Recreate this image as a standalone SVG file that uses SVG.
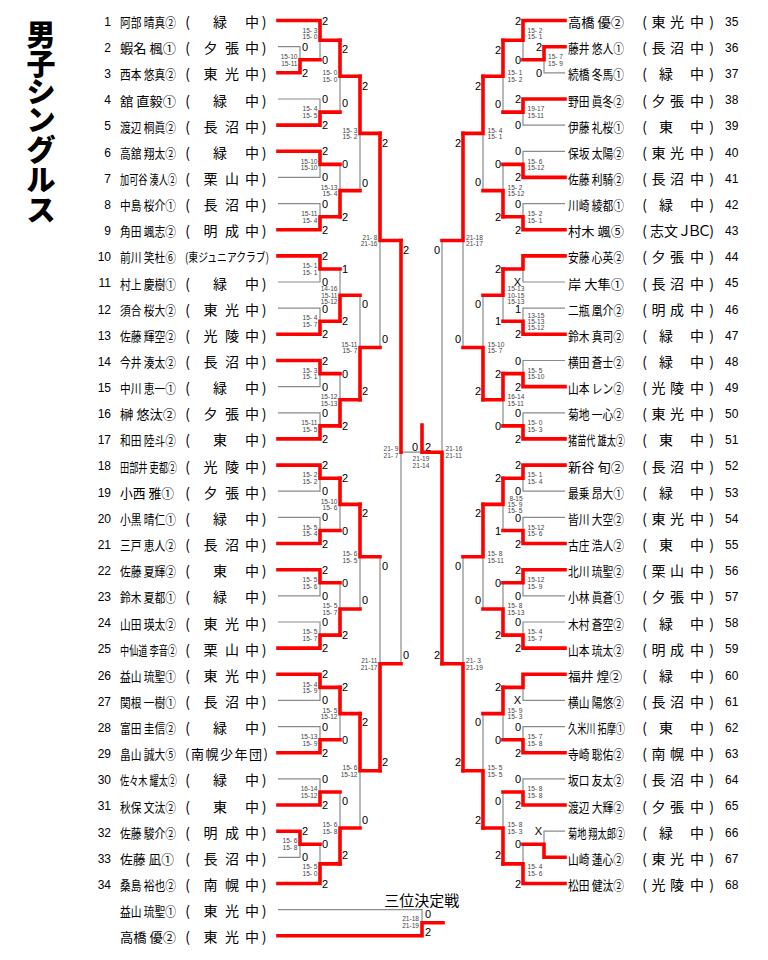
<svg xmlns="http://www.w3.org/2000/svg" width="768" height="960" viewBox="0 0 768 960">
<style>
.r{fill:none;stroke:#ff0000;stroke-width:3.6;stroke-linecap:square;stroke-linejoin:miter}
.g{fill:none;stroke:#8a8a8a;stroke-width:1.2}
text{font-family:"Noto Sans CJK JP","Noto Sans",sans-serif;fill:#000}
.no{font-family:"Liberation Sans",Arial,sans-serif;font-size:12px}
.nl{text-anchor:end}
.nm{font-size:13px}
.sch{font-size:14px;text-anchor:middle}
.sc{font-family:"Liberation Sans",Arial,sans-serif;font-size:6.6px;fill:#444}
.se{text-anchor:end}
.sm{text-anchor:middle}
.lb{font-family:"Liberation Sans",Arial,sans-serif;font-size:11px}
.le{text-anchor:end}
.lm{text-anchor:middle}
.title{font-size:29px;font-weight:900;text-anchor:middle}
.sub{font-size:15px;text-anchor:middle}
</style>
<rect width="768" height="960" fill="#fff"/>
<text class="title" x="41 41 41 41 41 41 41" y="46 74.5 103 131 161 191 221">男子シングルス</text>

<g id="players-left">
<g id="p1" transform="translate(0,20.5)"><text class="no nl" x="111" y="5.3">1</text><text class="nm" x="120" y="6.5" textLength="56" lengthAdjust="spacingAndGlyphs">阿部 晴真②</text><text class="sch" x="187.5 220 236 252 264" y="6.5">(緑 中)</text></g>
<g id="p2" transform="translate(0,46.7)"><text class="no nl" x="111" y="5.3">2</text><text class="nm" x="120" y="6.5" textLength="56" lengthAdjust="spacingAndGlyphs">蝦名 楓①</text><text class="sch" x="187.5 210.5 232 252 264" y="6.5">(夕張中)</text></g>
<g id="p3" transform="translate(0,72.8)"><text class="no nl" x="111" y="5.3">3</text><text class="nm" x="120" y="6.5" textLength="56" lengthAdjust="spacingAndGlyphs">西本 悠真②</text><text class="sch" x="187.5 210.5 232 252 264" y="6.5">(東光中)</text></g>
<g id="p4" transform="translate(0,99)"><text class="no nl" x="111" y="5.3">4</text><text class="nm" x="120" y="6.5" textLength="56" lengthAdjust="spacingAndGlyphs">舘 直毅①</text><text class="sch" x="187.5 220 236 252 264" y="6.5">(緑 中)</text></g>
<g id="p5" transform="translate(0,125.1)"><text class="no nl" x="111" y="5.3">5</text><text class="nm" x="120" y="6.5" textLength="56" lengthAdjust="spacingAndGlyphs">渡辺 桐眞②</text><text class="sch" x="187.5 210.5 232 252 264" y="6.5">(長沼中)</text></g>
<g id="p6" transform="translate(0,151.3)"><text class="no nl" x="111" y="5.3">6</text><text class="nm" x="120" y="6.5" textLength="56" lengthAdjust="spacingAndGlyphs">高舘 翔太②</text><text class="sch" x="187.5 220 236 252 264" y="6.5">(緑 中)</text></g>
<g id="p7" transform="translate(0,177.4)"><text class="no nl" x="111" y="5.3">7</text><text class="nm" x="120" y="6.5" textLength="57" lengthAdjust="spacingAndGlyphs">加可谷 湊人②</text><text class="sch" x="187.5 210.5 232 252 264" y="6.5">(栗山中)</text></g>
<g id="p8" transform="translate(0,203.6)"><text class="no nl" x="111" y="5.3">8</text><text class="nm" x="120" y="6.5" textLength="56" lengthAdjust="spacingAndGlyphs">中島 桜介①</text><text class="sch" x="187.5 210.5 232 252 264" y="6.5">(長沼中)</text></g>
<g id="p9" transform="translate(0,229.7)"><text class="no nl" x="111" y="5.3">9</text><text class="nm" x="120" y="6.5" textLength="56" lengthAdjust="spacingAndGlyphs">角田 颯志②</text><text class="sch" x="187.5 210.5 232 252 264" y="6.5">(明成中)</text></g>
<g id="p10" transform="translate(0,255.9)"><text class="no nl" x="111" y="5.3">10</text><text class="nm" x="120" y="6.5" textLength="56" lengthAdjust="spacingAndGlyphs">前川 笑杜⑥</text><text class="nm" x="185" y="6.5" style="font-size:12.5px" textLength="84" lengthAdjust="spacingAndGlyphs">(東ジュニアクラブ)</text></g>
<g id="p11" transform="translate(0,282)"><text class="no nl" x="111" y="5.3">11</text><text class="nm" x="120" y="6.5" textLength="56" lengthAdjust="spacingAndGlyphs">村上 慶樹①</text><text class="sch" x="187.5 220 236 252 264" y="6.5">(緑 中)</text></g>
<g id="p12" transform="translate(0,308.2)"><text class="no nl" x="111" y="5.3">12</text><text class="nm" x="120" y="6.5" textLength="56" lengthAdjust="spacingAndGlyphs">須合 桜大②</text><text class="sch" x="187.5 210.5 232 252 264" y="6.5">(東光中)</text></g>
<g id="p13" transform="translate(0,334.3)"><text class="no nl" x="111" y="5.3">13</text><text class="nm" x="120" y="6.5" textLength="56" lengthAdjust="spacingAndGlyphs">佐藤 輝空②</text><text class="sch" x="187.5 210.5 232 252 264" y="6.5">(光陵中)</text></g>
<g id="p14" transform="translate(0,360.5)"><text class="no nl" x="111" y="5.3">14</text><text class="nm" x="120" y="6.5" textLength="56" lengthAdjust="spacingAndGlyphs">今井 湊太②</text><text class="sch" x="187.5 210.5 232 252 264" y="6.5">(長沼中)</text></g>
<g id="p15" transform="translate(0,386.6)"><text class="no nl" x="111" y="5.3">15</text><text class="nm" x="120" y="6.5" textLength="56" lengthAdjust="spacingAndGlyphs">中川 恵一①</text><text class="sch" x="187.5 220 236 252 264" y="6.5">(緑 中)</text></g>
<g id="p16" transform="translate(0,412.8)"><text class="no nl" x="111" y="5.3">16</text><text class="nm" x="120" y="6.5" textLength="56" lengthAdjust="spacingAndGlyphs">榊 悠汰②</text><text class="sch" x="187.5 210.5 232 252 264" y="6.5">(夕張中)</text></g>
<g id="p17" transform="translate(0,438.9)"><text class="no nl" x="111" y="5.3">17</text><text class="nm" x="120" y="6.5" textLength="56" lengthAdjust="spacingAndGlyphs">和田 陸斗②</text><text class="sch" x="187.5 220 236 252 264" y="6.5">(東 中)</text></g>
<g id="p18" transform="translate(0,465.1)"><text class="no nl" x="111" y="5.3">18</text><text class="nm" x="120" y="6.5" textLength="57" lengthAdjust="spacingAndGlyphs">田部井 吏都②</text><text class="sch" x="187.5 210.5 232 252 264" y="6.5">(光陵中)</text></g>
<g id="p19" transform="translate(0,491.2)"><text class="no nl" x="111" y="5.3">19</text><text class="nm" x="120" y="6.5" textLength="54" lengthAdjust="spacingAndGlyphs">小西 雅①</text><text class="sch" x="187.5 210.5 232 252 264" y="6.5">(夕張中)</text></g>
<g id="p20" transform="translate(0,517.4)"><text class="no nl" x="111" y="5.3">20</text><text class="nm" x="120" y="6.5" textLength="56" lengthAdjust="spacingAndGlyphs">小黒 晴仁①</text><text class="sch" x="187.5 220 236 252 264" y="6.5">(緑 中)</text></g>
<g id="p21" transform="translate(0,543.5)"><text class="no nl" x="111" y="5.3">21</text><text class="nm" x="120" y="6.5" textLength="56" lengthAdjust="spacingAndGlyphs">三戸 恵人②</text><text class="sch" x="187.5 210.5 232 252 264" y="6.5">(長沼中)</text></g>
<g id="p22" transform="translate(0,569.7)"><text class="no nl" x="111" y="5.3">22</text><text class="nm" x="120" y="6.5" textLength="56" lengthAdjust="spacingAndGlyphs">佐藤 夏輝②</text><text class="sch" x="187.5 220 236 252 264" y="6.5">(東 中)</text></g>
<g id="p23" transform="translate(0,595.8)"><text class="no nl" x="111" y="5.3">23</text><text class="nm" x="120" y="6.5" textLength="56" lengthAdjust="spacingAndGlyphs">鈴木 夏都①</text><text class="sch" x="187.5 220 236 252 264" y="6.5">(緑 中)</text></g>
<g id="p24" transform="translate(0,622)"><text class="no nl" x="111" y="5.3">24</text><text class="nm" x="120" y="6.5" textLength="56" lengthAdjust="spacingAndGlyphs">山田 瑛太②</text><text class="sch" x="187.5 210.5 232 252 264" y="6.5">(東光中)</text></g>
<g id="p25" transform="translate(0,648.1)"><text class="no nl" x="111" y="5.3">25</text><text class="nm" x="120" y="6.5" textLength="57" lengthAdjust="spacingAndGlyphs">中仙道 李音②</text><text class="sch" x="187.5 210.5 232 252 264" y="6.5">(栗山中)</text></g>
<g id="p26" transform="translate(0,674.3)"><text class="no nl" x="111" y="5.3">26</text><text class="nm" x="120" y="6.5" textLength="56" lengthAdjust="spacingAndGlyphs">益山 琉聖①</text><text class="sch" x="187.5 210.5 232 252 264" y="6.5">(東光中)</text></g>
<g id="p27" transform="translate(0,700.4)"><text class="no nl" x="111" y="5.3">27</text><text class="nm" x="120" y="6.5" textLength="56" lengthAdjust="spacingAndGlyphs">関根 一樹①</text><text class="sch" x="187.5 210.5 232 252 264" y="6.5">(長沼中)</text></g>
<g id="p28" transform="translate(0,726.6)"><text class="no nl" x="111" y="5.3">28</text><text class="nm" x="120" y="6.5" textLength="56" lengthAdjust="spacingAndGlyphs">富田 圭信②</text><text class="sch" x="187.5 220 236 252 264" y="6.5">(緑 中)</text></g>
<g id="p29" transform="translate(0,752.7)"><text class="no nl" x="111" y="5.3">29</text><text class="nm" x="120" y="6.5" textLength="56" lengthAdjust="spacingAndGlyphs">畠山 誠大⑤</text><text class="nm" x="185" y="6.5" textLength="83" lengthAdjust="spacing">(南幌少年団)</text></g>
<g id="p30" transform="translate(0,778.9)"><text class="no nl" x="111" y="5.3">30</text><text class="nm" x="120" y="6.5" textLength="57" lengthAdjust="spacingAndGlyphs">佐々木 耀太②</text><text class="sch" x="187.5 220 236 252 264" y="6.5">(緑 中)</text></g>
<g id="p31" transform="translate(0,805)"><text class="no nl" x="111" y="5.3">31</text><text class="nm" x="120" y="6.5" textLength="56" lengthAdjust="spacingAndGlyphs">秋保 文汰②</text><text class="sch" x="187.5 220 236 252 264" y="6.5">(東 中)</text></g>
<g id="p32" transform="translate(0,831.2)"><text class="no nl" x="111" y="5.3">32</text><text class="nm" x="120" y="6.5" textLength="56" lengthAdjust="spacingAndGlyphs">佐藤 駿介②</text><text class="sch" x="187.5 210.5 232 252 264" y="6.5">(明成中)</text></g>
<g id="p33" transform="translate(0,857.3)"><text class="no nl" x="111" y="5.3">33</text><text class="nm" x="120" y="6.5" textLength="54" lengthAdjust="spacingAndGlyphs">佐藤 凪①</text><text class="sch" x="187.5 210.5 232 252 264" y="6.5">(長沼中)</text></g>
<g id="p34" transform="translate(0,883.5)"><text class="no nl" x="111" y="5.3">34</text><text class="nm" x="120" y="6.5" textLength="56" lengthAdjust="spacingAndGlyphs">桑島 裕也②</text><text class="sch" x="187.5 210.5 232 252 264" y="6.5">(南幌中)</text></g>
</g>

<g id="players-right">
<g id="p35" transform="translate(0,20.5)"><text class="nm" x="568" y="6.5" textLength="56" lengthAdjust="spacingAndGlyphs">高橋 優②</text><text class="sch" x="644.5 658.5 677 697 711.5" y="6.5">(東光中)</text><text class="no" x="725" y="5.3">35</text></g>
<g id="p36" transform="translate(0,46.7)"><text class="nm" x="568" y="6.5" textLength="56" lengthAdjust="spacingAndGlyphs">藤井 悠人①</text><text class="sch" x="644.5 658.5 677 697 711.5" y="6.5">(長沼中)</text><text class="no" x="725" y="5.3">36</text></g>
<g id="p37" transform="translate(0,72.8)"><text class="nm" x="568" y="6.5" textLength="56" lengthAdjust="spacingAndGlyphs">続橋 冬馬①</text><text class="sch" x="644.5 666 681 697 711.5" y="6.5">(緑 中)</text><text class="no" x="725" y="5.3">37</text></g>
<g id="p38" transform="translate(0,99)"><text class="nm" x="568" y="6.5" textLength="56" lengthAdjust="spacingAndGlyphs">野田 眞冬②</text><text class="sch" x="644.5 658.5 677 697 711.5" y="6.5">(夕張中)</text><text class="no" x="725" y="5.3">38</text></g>
<g id="p39" transform="translate(0,125.1)"><text class="nm" x="568" y="6.5" textLength="56" lengthAdjust="spacingAndGlyphs">伊藤 礼桜①</text><text class="sch" x="644.5 666 681 697 711.5" y="6.5">(東 中)</text><text class="no" x="725" y="5.3">39</text></g>
<g id="p40" transform="translate(0,151.3)"><text class="nm" x="568" y="6.5" textLength="56" lengthAdjust="spacingAndGlyphs">保坂 太陽②</text><text class="sch" x="644.5 658.5 677 697 711.5" y="6.5">(東光中)</text><text class="no" x="725" y="5.3">40</text></g>
<g id="p41" transform="translate(0,177.4)"><text class="nm" x="568" y="6.5" textLength="56" lengthAdjust="spacingAndGlyphs">佐藤 利騎②</text><text class="sch" x="644.5 658.5 677 697 711.5" y="6.5">(長沼中)</text><text class="no" x="725" y="5.3">41</text></g>
<g id="p42" transform="translate(0,203.6)"><text class="nm" x="568" y="6.5" textLength="56" lengthAdjust="spacingAndGlyphs">川崎 綾都①</text><text class="sch" x="644.5 666 681 697 711.5" y="6.5">(緑 中)</text><text class="no" x="725" y="5.3">42</text></g>
<g id="p43" transform="translate(0,229.7)"><text class="nm" x="568" y="6.5" textLength="56" lengthAdjust="spacingAndGlyphs">村木 颯⑤</text><text class="sch" x="644.5 657 671 684.5 694.5 704.5 711.5" y="6.5">(志文ＪＢＣ)</text><text class="no" x="725" y="5.3">43</text></g>
<g id="p44" transform="translate(0,255.9)"><text class="nm" x="568" y="6.5" textLength="56" lengthAdjust="spacingAndGlyphs">安藤 心英②</text><text class="sch" x="644.5 658.5 677 697 711.5" y="6.5">(夕張中)</text><text class="no" x="725" y="5.3">44</text></g>
<g id="p45" transform="translate(0,282)"><text class="nm" x="568" y="6.5" textLength="56" lengthAdjust="spacingAndGlyphs">岸 大隼①</text><text class="sch" x="644.5 658.5 677 697 711.5" y="6.5">(長沼中)</text><text class="no" x="725" y="5.3">45</text></g>
<g id="p46" transform="translate(0,308.2)"><text class="nm" x="568" y="6.5" textLength="56" lengthAdjust="spacingAndGlyphs">二瓶 凰介②</text><text class="sch" x="644.5 658.5 677 697 711.5" y="6.5">(明成中)</text><text class="no" x="725" y="5.3">46</text></g>
<g id="p47" transform="translate(0,334.3)"><text class="nm" x="568" y="6.5" textLength="56" lengthAdjust="spacingAndGlyphs">鈴木 真司②</text><text class="sch" x="644.5 666 681 697 711.5" y="6.5">(緑 中)</text><text class="no" x="725" y="5.3">47</text></g>
<g id="p48" transform="translate(0,360.5)"><text class="nm" x="568" y="6.5" textLength="56" lengthAdjust="spacingAndGlyphs">横田 蒼士②</text><text class="sch" x="644.5 666 681 697 711.5" y="6.5">(緑 中)</text><text class="no" x="725" y="5.3">48</text></g>
<g id="p49" transform="translate(0,386.6)"><text class="nm" x="568" y="6.5" textLength="56" lengthAdjust="spacingAndGlyphs">山本 レン②</text><text class="sch" x="644.5 658.5 677 697 711.5" y="6.5">(光陵中)</text><text class="no" x="725" y="5.3">49</text></g>
<g id="p50" transform="translate(0,412.8)"><text class="nm" x="568" y="6.5" textLength="56" lengthAdjust="spacingAndGlyphs">菊地 一心②</text><text class="sch" x="644.5 658.5 677 697 711.5" y="6.5">(東光中)</text><text class="no" x="725" y="5.3">50</text></g>
<g id="p51" transform="translate(0,438.9)"><text class="nm" x="568" y="6.5" textLength="57" lengthAdjust="spacingAndGlyphs">猪苗代 雄太②</text><text class="sch" x="644.5 666 681 697 711.5" y="6.5">(東 中)</text><text class="no" x="725" y="5.3">51</text></g>
<g id="p52" transform="translate(0,465.1)"><text class="nm" x="568" y="6.5" textLength="56" lengthAdjust="spacingAndGlyphs">新谷 旬②</text><text class="sch" x="644.5 658.5 677 697 711.5" y="6.5">(長沼中)</text><text class="no" x="725" y="5.3">52</text></g>
<g id="p53" transform="translate(0,491.2)"><text class="nm" x="568" y="6.5" textLength="56" lengthAdjust="spacingAndGlyphs">最乗 昂大①</text><text class="sch" x="644.5 666 681 697 711.5" y="6.5">(緑 中)</text><text class="no" x="725" y="5.3">53</text></g>
<g id="p54" transform="translate(0,517.4)"><text class="nm" x="568" y="6.5" textLength="56" lengthAdjust="spacingAndGlyphs">皆川 大空②</text><text class="sch" x="644.5 658.5 677 697 711.5" y="6.5">(東光中)</text><text class="no" x="725" y="5.3">54</text></g>
<g id="p55" transform="translate(0,543.5)"><text class="nm" x="568" y="6.5" textLength="56" lengthAdjust="spacingAndGlyphs">古庄 浩人②</text><text class="sch" x="644.5 666 681 697 711.5" y="6.5">(東 中)</text><text class="no" x="725" y="5.3">55</text></g>
<g id="p56" transform="translate(0,569.7)"><text class="nm" x="568" y="6.5" textLength="56" lengthAdjust="spacingAndGlyphs">北川 琉聖②</text><text class="sch" x="644.5 658.5 677 697 711.5" y="6.5">(栗山中)</text><text class="no" x="725" y="5.3">56</text></g>
<g id="p57" transform="translate(0,595.8)"><text class="nm" x="568" y="6.5" textLength="56" lengthAdjust="spacingAndGlyphs">小林 眞蒼①</text><text class="sch" x="644.5 658.5 677 697 711.5" y="6.5">(夕張中)</text><text class="no" x="725" y="5.3">57</text></g>
<g id="p58" transform="translate(0,622)"><text class="nm" x="568" y="6.5" textLength="56" lengthAdjust="spacingAndGlyphs">木村 蒼空②</text><text class="sch" x="644.5 666 681 697 711.5" y="6.5">(緑 中)</text><text class="no" x="725" y="5.3">58</text></g>
<g id="p59" transform="translate(0,648.1)"><text class="nm" x="568" y="6.5" textLength="56" lengthAdjust="spacingAndGlyphs">山本 琉太②</text><text class="sch" x="644.5 658.5 677 697 711.5" y="6.5">(明成中)</text><text class="no" x="725" y="5.3">59</text></g>
<g id="p60" transform="translate(0,674.3)"><text class="nm" x="568" y="6.5" textLength="54" lengthAdjust="spacingAndGlyphs">福井 煌②</text><text class="sch" x="644.5 666 681 697 711.5" y="6.5">(緑 中)</text><text class="no" x="725" y="5.3">60</text></g>
<g id="p61" transform="translate(0,700.4)"><text class="nm" x="568" y="6.5" textLength="56" lengthAdjust="spacingAndGlyphs">横山 陽悠②</text><text class="sch" x="644.5 658.5 677 697 711.5" y="6.5">(長沼中)</text><text class="no" x="725" y="5.3">61</text></g>
<g id="p62" transform="translate(0,726.6)"><text class="nm" x="568" y="6.5" textLength="57" lengthAdjust="spacingAndGlyphs">久米川 拓摩①</text><text class="sch" x="644.5 666 681 697 711.5" y="6.5">(東 中)</text><text class="no" x="725" y="5.3">62</text></g>
<g id="p63" transform="translate(0,752.7)"><text class="nm" x="568" y="6.5" textLength="56" lengthAdjust="spacingAndGlyphs">寺崎 聡佑②</text><text class="sch" x="644.5 658.5 677 697 711.5" y="6.5">(南幌中)</text><text class="no" x="725" y="5.3">63</text></g>
<g id="p64" transform="translate(0,778.9)"><text class="nm" x="568" y="6.5" textLength="56" lengthAdjust="spacingAndGlyphs">坂口 友太②</text><text class="sch" x="644.5 658.5 677 697 711.5" y="6.5">(長沼中)</text><text class="no" x="725" y="5.3">64</text></g>
<g id="p65" transform="translate(0,805)"><text class="nm" x="568" y="6.5" textLength="56" lengthAdjust="spacingAndGlyphs">渡辺 大輝②</text><text class="sch" x="644.5 658.5 677 697 711.5" y="6.5">(夕張中)</text><text class="no" x="725" y="5.3">65</text></g>
<g id="p66" transform="translate(0,831.2)"><text class="nm" x="568" y="6.5" textLength="57" lengthAdjust="spacingAndGlyphs">菊地 翔太郎②</text><text class="sch" x="644.5 666 681 697 711.5" y="6.5">(緑 中)</text><text class="no" x="725" y="5.3">66</text></g>
<g id="p67" transform="translate(0,857.3)"><text class="nm" x="568" y="6.5" textLength="56" lengthAdjust="spacingAndGlyphs">山崎 蓮心②</text><text class="sch" x="644.5 658.5 677 697 711.5" y="6.5">(東光中)</text><text class="no" x="725" y="5.3">67</text></g>
<g id="p68" transform="translate(0,883.5)"><text class="nm" x="568" y="6.5" textLength="56" lengthAdjust="spacingAndGlyphs">松田 健汰②</text><text class="sch" x="644.5 658.5 677 697 711.5" y="6.5">(光陵中)</text><text class="no" x="725" y="5.3">68</text></g>
</g>

<g id="third-place">
<text class="sub" x="421.7" y="905.5">三位決定戦</text>
<g id="t1" transform="translate(0,909.6)"><text class="nm" x="120" y="6.5" textLength="56" lengthAdjust="spacingAndGlyphs">益山 琉聖①</text><text class="sch" x="187.5 210.5 232 252 264" y="6.5">(東光中)</text></g>
<g id="t2" transform="translate(0,935.8)"><text class="nm" x="120" y="6.5" textLength="56" lengthAdjust="spacingAndGlyphs">高橋 優②</text><text class="sch" x="187.5 210.5 232 252 264" y="6.5">(東光中)</text></g>
</g>

<g id="connectors">
<path class="g" d="M278,46.7H300V59.8M320,40.2V59.8M278,99H320V112.1M340,76.2V112.1M278,177.4H320V164.4M278,203.6H320V216.7M340,164.4V190.6M360,133.4V190.6M278,282H320V269M278,308.2H320V321.3M340,269V295.2M278,386.6H320V373.6M278,412.8H320V425.9M340,373.6V399.8M360,295.2V347.5M380,240.5V347.5M278,491.2H320V478.2M278,517.4H320V530.5M340,504.4V530.5M278,595.8H320V582.8M278,622H320V635.1M340,582.8V609M360,556.7V609M278,700.4H320V687.4M278,726.6H320V739.7M340,713.6V739.7M278,778.9H320V792M278,857.3H300V844.3M320,844.3V863.9M340,792V828M360,770.8V828M380,556.7V663.8M401,452.2V663.8M401,452.2H422M278,909.6H422V922.7"/>
<path class="g" d="M565,72.8H544V59.8M523,40.2V59.8M565,125.1H523V112.1M503,76.2V112.1M565,151.3H523V164.4M565,203.6H523V216.7M503,164.4V190.6M483,133.4V190.6M565,282H523V269M565,308.2H523V321.3M503,295.2V321.3M565,360.5H523V373.6M565,412.8H523V425.9M503,399.8V425.9M483,295.2V347.5M463,240.5V347.5M565,491.2H523V478.2M565,517.4H523V530.5M503,504.4V530.5M565,595.8H523V582.8M565,622H523V635.1M503,582.8V609M483,556.7V609M565,700.4H523V687.4M565,726.6H523V739.7M503,713.6V739.7M565,778.9H523V792M565,831.2H544V844.3M523,844.3V863.9M503,792V828M483,713.6V770.8M463,556.7V663.8M442,240.5V452.2"/>
<path class="r" d="M278,72.8H300V59.8H320"/>
<path class="r" d="M278,20.5H320V40.2H340"/>
<path class="r" d="M278,125.1H320V112.1H340"/>
<path class="r" d="M340,40.2V76.2H360"/>
<path class="r" d="M278,151.3H320V164.4H340"/>
<path class="r" d="M278,229.7H320V216.7H340"/>
<path class="r" d="M340,216.7V190.6H360"/>
<path class="r" d="M360,76.2V133.4H380"/>
<path class="r" d="M278,255.9H320V269H340"/>
<path class="r" d="M278,334.3H320V321.3H340"/>
<path class="r" d="M340,321.3V295.2H360"/>
<path class="r" d="M278,360.5H320V373.6H340"/>
<path class="r" d="M278,438.9H320V425.9H340"/>
<path class="r" d="M340,425.9V399.8H360"/>
<path class="r" d="M360,399.8V347.5H380"/>
<path class="r" d="M380,133.4V240.5H401"/>
<path class="r" d="M278,465.1H320V478.2H340"/>
<path class="r" d="M278,543.5H320V530.5H340"/>
<path class="r" d="M340,478.2V504.4H360"/>
<path class="r" d="M278,569.7H320V582.8H340"/>
<path class="r" d="M278,648.1H320V635.1H340"/>
<path class="r" d="M340,635.1V609H360"/>
<path class="r" d="M360,504.4V556.7H380"/>
<path class="r" d="M278,674.3H320V687.4H340"/>
<path class="r" d="M278,752.7H320V739.7H340"/>
<path class="r" d="M340,687.4V713.6H360"/>
<path class="r" d="M278,805H320V792H340"/>
<path class="r" d="M278,831.2H300V844.3H320"/>
<path class="r" d="M278,883.5H320V863.9H340"/>
<path class="r" d="M340,863.9V828H360"/>
<path class="r" d="M360,713.6V770.8H380"/>
<path class="r" d="M380,770.8V663.8H401"/>
<path class="r" d="M401,240.5V452.2"/>
<path class="r" d="M278,935.8H422V922.7H443"/>
<path class="r" d="M565,46.7H544V59.8H523"/>
<path class="r" d="M565,20.5H523V40.2H503"/>
<path class="r" d="M565,99H523V112.1H503"/>
<path class="r" d="M503,40.2V76.2H483"/>
<path class="r" d="M565,177.4H523V164.4H503"/>
<path class="r" d="M565,229.7H523V216.7H503"/>
<path class="r" d="M503,216.7V190.6H483"/>
<path class="r" d="M483,76.2V133.4H463"/>
<path class="r" d="M565,255.9H523V269H503"/>
<path class="r" d="M565,334.3H523V321.3H503"/>
<path class="r" d="M503,269V295.2H483"/>
<path class="r" d="M565,386.6H523V373.6H503"/>
<path class="r" d="M565,438.9H523V425.9H503"/>
<path class="r" d="M503,373.6V399.8H483"/>
<path class="r" d="M483,399.8V347.5H463"/>
<path class="r" d="M463,133.4V240.5H442"/>
<path class="r" d="M565,465.1H523V478.2H503"/>
<path class="r" d="M565,543.5H523V530.5H503"/>
<path class="r" d="M503,478.2V504.4H483"/>
<path class="r" d="M565,569.7H523V582.8H503"/>
<path class="r" d="M565,648.1H523V635.1H503"/>
<path class="r" d="M503,635.1V609H483"/>
<path class="r" d="M483,504.4V556.7H463"/>
<path class="r" d="M565,674.3H523V687.4H503"/>
<path class="r" d="M565,752.7H523V739.7H503"/>
<path class="r" d="M503,687.4V713.6H483"/>
<path class="r" d="M565,805H523V792H503"/>
<path class="r" d="M565,857.3H544V844.3H523"/>
<path class="r" d="M565,883.5H523V863.9H503"/>
<path class="r" d="M503,863.9V828H483"/>
<path class="r" d="M483,828V770.8H463"/>
<path class="r" d="M463,770.8V663.8H442"/>
<path class="r" d="M442,663.8V452.2H422V425"/>
</g>

<g id="scores">
<text class="sc se" x="297.5" y="58.95">15-10<tspan x="297.5" dy="6.7">15-11</tspan></text>
<text class="sc se" x="297.5" y="843.45">15- 6<tspan x="297.5" dy="6.7">15- 8</tspan></text>
<text class="sc se" x="317.5" y="32.5">15- 3<tspan x="317.5" dy="6.7">15- 0</tspan></text>
<text class="sc se" x="317.5" y="111.25">15- 4<tspan x="317.5" dy="6.7">15- 5</tspan></text>
<text class="sc se" x="317.5" y="163.55">15-10<tspan x="317.5" dy="6.7">15-10</tspan></text>
<text class="sc se" x="317.5" y="215.85">15-11<tspan x="317.5" dy="6.7">15- 4</tspan></text>
<text class="sc se" x="317.5" y="268.15">15- 1<tspan x="317.5" dy="6.7">15- 1</tspan></text>
<text class="sc se" x="317.5" y="320.45">15- 4<tspan x="317.5" dy="6.7">15- 7</tspan></text>
<text class="sc se" x="317.5" y="372.75">15- 3<tspan x="317.5" dy="6.7">15- 1</tspan></text>
<text class="sc se" x="317.5" y="425.05">15-11<tspan x="317.5" dy="6.7">15- 5</tspan></text>
<text class="sc se" x="317.5" y="477.35">15- 2<tspan x="317.5" dy="6.7">15- 2</tspan></text>
<text class="sc se" x="317.5" y="529.65">15- 5<tspan x="317.5" dy="6.7">15- 4</tspan></text>
<text class="sc se" x="317.5" y="581.95">15- 5<tspan x="317.5" dy="6.7">15- 6</tspan></text>
<text class="sc se" x="317.5" y="634.25">15- 5<tspan x="317.5" dy="6.7">15- 7</tspan></text>
<text class="sc se" x="317.5" y="686.55">15- 4<tspan x="317.5" dy="6.7">15- 9</tspan></text>
<text class="sc se" x="317.5" y="738.85">15-13<tspan x="317.5" dy="6.7">15- 9</tspan></text>
<text class="sc se" x="317.5" y="791.15">16-14<tspan x="317.5" dy="6.7">15-12</tspan></text>
<text class="sc se" x="317.5" y="869.2">15- 5<tspan x="317.5" dy="6.7">15- 0</tspan></text>
<text class="sc se" x="337.5" y="75.35">15- 0<tspan x="337.5" dy="6.7">15- 0</tspan></text>
<text class="sc se" x="337.5" y="189.75">15-13<tspan x="337.5" dy="6.7">15- 4</tspan></text>
<text class="sc se" x="337.5" y="291.4">14-16<tspan x="337.5" dy="6.2">15-11</tspan><tspan x="337.5" dy="6.2">15-12</tspan></text>
<text class="sc se" x="337.5" y="398.95">15-12<tspan x="337.5" dy="6.7">15-13</tspan></text>
<text class="sc se" x="337.5" y="503.55">15-10<tspan x="337.5" dy="6.7">15- 6</tspan></text>
<text class="sc se" x="337.5" y="608.15">15- 5<tspan x="337.5" dy="6.7">15- 7</tspan></text>
<text class="sc se" x="337.5" y="712.75">15- 5<tspan x="337.5" dy="6.7">15-12</tspan></text>
<text class="sc se" x="337.5" y="827.15">15- 6<tspan x="337.5" dy="6.7">15- 8</tspan></text>
<text class="sc se" x="357.5" y="132.55">15- 3<tspan x="357.5" dy="6.7">15- 2</tspan></text>
<text class="sc se" x="357.5" y="346.65">15-11<tspan x="357.5" dy="6.7">15- 7</tspan></text>
<text class="sc se" x="357.5" y="555.85">15- 6<tspan x="357.5" dy="6.7">15- 5</tspan></text>
<text class="sc se" x="357.5" y="769.95">15- 6<tspan x="357.5" dy="6.7">15-12</tspan></text>
<text class="sc se" x="377.5" y="239.65">21- 8<tspan x="377.5" dy="6.7">21-16</tspan></text>
<text class="sc se" x="377.5" y="662.95">21-11<tspan x="377.5" dy="6.7">21-17</tspan></text>
<text class="sc se" x="398.5" y="451.35">21- 9<tspan x="398.5" dy="6.7">21- 7</tspan></text>
<text class="sc sm" x="421" y="460.8">21-19<tspan x="421" dy="6.7">21-14</tspan></text>
<text class="sc se" x="419" y="920.8">21-18<tspan x="419" dy="6.7">21-19</tspan></text>
<text class="sc" x="548" y="58.95">15- 7<tspan x="548" dy="6.7">15- 9</tspan></text>
<text class="sc" x="527.5" y="32.5">15- 2<tspan x="527.5" dy="6.7">15- 1</tspan></text>
<text class="sc" x="527.5" y="111.25">19-17<tspan x="527.5" dy="6.7">15-11</tspan></text>
<text class="sc" x="527.5" y="163.55">15- 6<tspan x="527.5" dy="6.7">15-12</tspan></text>
<text class="sc" x="527.5" y="215.85">15- 2<tspan x="527.5" dy="6.7">15- 1</tspan></text>
<text class="sc" x="527.5" y="317.5">13-15<tspan x="527.5" dy="6.2">15-13</tspan><tspan x="527.5" dy="6.2">15-12</tspan></text>
<text class="sc" x="527.5" y="372.75">15- 5<tspan x="527.5" dy="6.7">15-10</tspan></text>
<text class="sc" x="527.5" y="425.05">15- 0<tspan x="527.5" dy="6.7">15- 3</tspan></text>
<text class="sc" x="527.5" y="477.35">15- 1<tspan x="527.5" dy="6.7">15- 4</tspan></text>
<text class="sc" x="527.5" y="529.65">15-12<tspan x="527.5" dy="6.7">15- 6</tspan></text>
<text class="sc" x="527.5" y="581.95">15-12<tspan x="527.5" dy="6.7">15- 9</tspan></text>
<text class="sc" x="527.5" y="634.25">15- 4<tspan x="527.5" dy="6.7">15- 7</tspan></text>
<text class="sc" x="527.5" y="738.85">15- 7<tspan x="527.5" dy="6.7">15- 8</tspan></text>
<text class="sc" x="527.5" y="791.15">15- 8<tspan x="527.5" dy="6.7">15- 8</tspan></text>
<text class="sc" x="527.5" y="869.2">15- 4<tspan x="527.5" dy="6.7">15- 6</tspan></text>
<text class="sc" x="507.5" y="75.35">15- 1<tspan x="507.5" dy="6.7">15- 2</tspan></text>
<text class="sc" x="507.5" y="189.75">15- 2<tspan x="507.5" dy="6.7">15-12</tspan></text>
<text class="sc" x="507.5" y="291.4">15-13<tspan x="507.5" dy="6.2">10-15</tspan><tspan x="507.5" dy="6.2">15-13</tspan></text>
<text class="sc" x="507.5" y="398.95">16-14<tspan x="507.5" dy="6.7">15-11</tspan></text>
<text class="sc" x="509.5" y="500.6">8-15<tspan x="507.5" dy="6.2">15- 9</tspan><tspan x="507.5" dy="6.2">15- 5</tspan></text>
<text class="sc" x="507.5" y="608.15">15- 8<tspan x="507.5" dy="6.7">15-13</tspan></text>
<text class="sc" x="507.5" y="712.75">15- 9<tspan x="507.5" dy="6.7">15- 3</tspan></text>
<text class="sc" x="507.5" y="827.15">15- 8<tspan x="507.5" dy="6.7">15- 3</tspan></text>
<text class="sc" x="487.5" y="132.55">15- 4<tspan x="487.5" dy="6.7">15- 1</tspan></text>
<text class="sc" x="487.5" y="346.65">15-10<tspan x="487.5" dy="6.7">15- 7</tspan></text>
<text class="sc" x="487.5" y="555.85">15- 8<tspan x="487.5" dy="6.7">15-11</tspan></text>
<text class="sc" x="487.5" y="769.95">15- 5<tspan x="487.5" dy="6.7">15- 5</tspan></text>
<text class="sc" x="466" y="239.65">21-18<tspan x="466" dy="6.7">21-17</tspan></text>
<text class="sc" x="466" y="662.95">21- 3<tspan x="466" dy="6.7">21-19</tspan></text>
<text class="sc" x="445.5" y="451.35">21-16<tspan x="445.5" dy="6.7">21-11</tspan></text>
</g>

<g id="results">
<text class="lb" x="302" y="50.7">0</text><text class="lb" x="302" y="76.8">2</text>
<text class="lb" x="322" y="24.5">2</text><text class="lb" x="322" y="63.8">0</text>
<text class="lb" x="322" y="103">0</text><text class="lb" x="322" y="129.1">2</text>
<text class="lb" x="342" y="53.2">2</text><text class="lb" x="342" y="107.1">0</text>
<text class="lb" x="322" y="155.3">2</text><text class="lb" x="322" y="181.4">0</text>
<text class="lb" x="322" y="207.6">0</text><text class="lb" x="322" y="233.7">2</text>
<text class="lb" x="342" y="168.4">0</text><text class="lb" x="342" y="220.7">2</text>
<text class="lb" x="362" y="89.5">2</text><text class="lb" x="362" y="186.5">0</text>
<text class="lb" x="382" y="146.5">2</text><text class="lb" x="382" y="343">0</text>
<text class="lb" x="322" y="259.9">2</text><text class="lb" x="322" y="286">0</text>
<text class="lb" x="322" y="312.6">0</text><text class="lb" x="322" y="338.3">2</text>
<text class="lb" x="342" y="273">1</text><text class="lb" x="342" y="325.3">2</text>
<text class="lb" x="322" y="364.5">2</text><text class="lb" x="322" y="390.6">0</text>
<text class="lb" x="322" y="416.8">0</text><text class="lb" x="322" y="442.9">2</text>
<text class="lb" x="342" y="377.6">0</text><text class="lb" x="342" y="429.9">2</text>
<text class="lb" x="362" y="308">0</text><text class="lb" x="362" y="395">2</text>
<text class="lb" x="403" y="254">2</text><text class="lb" x="403" y="659">0</text>
<text class="lb" x="322" y="469.1">2</text><text class="lb" x="322" y="495.2">0</text>
<text class="lb" x="322" y="521.4">0</text><text class="lb" x="322" y="547.5">2</text>
<text class="lb" x="342" y="482.2">2</text><text class="lb" x="342" y="534.5">0</text>
<text class="lb" x="322" y="573.7">2</text><text class="lb" x="322" y="599.8">0</text>
<text class="lb" x="322" y="626">0</text><text class="lb" x="322" y="652.1">2</text>
<text class="lb" x="342" y="586.8">0</text><text class="lb" x="342" y="639.1">2</text>
<text class="lb" x="362" y="517.4">2</text><text class="lb" x="362" y="604">0</text>
<text class="lb" x="382" y="569.5">0</text><text class="lb" x="382" y="766">2</text>
<text class="lb" x="322" y="678.3">2</text><text class="lb" x="322" y="704.4">0</text>
<text class="lb" x="322" y="730.6">0</text><text class="lb" x="322" y="756.7">2</text>
<text class="lb" x="342" y="691.4">2</text><text class="lb" x="342" y="743.7">0</text>
<text class="lb" x="322" y="782.9">0</text><text class="lb" x="322" y="809">2</text>
<text class="lb" x="302" y="835.2">2</text><text class="lb" x="302" y="861.3">0</text>
<text class="lb" x="322" y="848.3">0</text><text class="lb" x="322" y="887.5">2</text>
<text class="lb" x="342" y="805">0</text><text class="lb" x="342" y="859">2</text>
<text class="lb" x="362" y="726">2</text><text class="lb" x="362" y="823.5">0</text>
<text class="lb lm" x="415" y="450.7">0</text><text class="lb lm" x="428" y="450.7">2</text>
<text class="lb" x="425" y="918">0</text><text class="lb" x="425" y="935.7">2</text>
<text class="lb le" x="542" y="50.7">2</text><text class="lb le" x="542" y="76.8">0</text>
<text class="lb le" x="521" y="24.5">2</text><text class="lb le" x="521" y="63.8">0</text>
<text class="lb le" x="521" y="103">2</text><text class="lb le" x="521" y="129.1">0</text>
<text class="lb le" x="501" y="54">2</text><text class="lb le" x="501" y="108">0</text>
<text class="lb le" x="521" y="155.3">0</text><text class="lb le" x="521" y="181.4">2</text>
<text class="lb le" x="521" y="207.6">0</text><text class="lb le" x="521" y="233.7">2</text>
<text class="lb le" x="501" y="168.4">0</text><text class="lb le" x="501" y="220.7">2</text>
<text class="lb le" x="481" y="90">2</text><text class="lb le" x="481" y="186.3">0</text>
<text class="lb le" x="461" y="146.7">2</text><text class="lb le" x="461" y="343">0</text>
<text class="lb le" x="521" y="286">X</text>
<text class="lb le" x="521" y="312.6">1</text><text class="lb le" x="521" y="338.3">2</text>
<text class="lb le" x="501" y="273">2</text><text class="lb le" x="501" y="325.3">1</text>
<text class="lb le" x="521" y="364.5">0</text><text class="lb le" x="521" y="390.6">2</text>
<text class="lb le" x="521" y="416.8">0</text><text class="lb le" x="521" y="442.9">2</text>
<text class="lb le" x="501" y="377.6">2</text><text class="lb le" x="501" y="429.9">0</text>
<text class="lb le" x="481" y="308">0</text><text class="lb le" x="481" y="395">2</text>
<text class="lb le" x="440" y="253.5">0</text><text class="lb le" x="440" y="659">2</text>
<text class="lb le" x="521" y="469.1">2</text><text class="lb le" x="521" y="495.2">0</text>
<text class="lb le" x="521" y="521.8">0</text><text class="lb le" x="521" y="547.5">2</text>
<text class="lb le" x="501" y="482.2">2</text><text class="lb le" x="501" y="534.5">1</text>
<text class="lb le" x="521" y="573.7">2</text><text class="lb le" x="521" y="599.8">0</text>
<text class="lb le" x="521" y="626">0</text><text class="lb le" x="521" y="652.1">2</text>
<text class="lb le" x="501" y="586.8">0</text><text class="lb le" x="501" y="639.1">2</text>
<text class="lb le" x="481" y="517.4">2</text><text class="lb le" x="481" y="604">0</text>
<text class="lb le" x="461" y="570">0</text><text class="lb le" x="461" y="765.7">2</text>
<text class="lb le" x="521" y="704.4">X</text>
<text class="lb le" x="521" y="730.6">0</text><text class="lb le" x="521" y="756.7">2</text>
<text class="lb le" x="501" y="691.4">2</text><text class="lb le" x="501" y="743.7">0</text>
<text class="lb le" x="521" y="782.9">0</text><text class="lb le" x="521" y="809">2</text>
<text class="lb le" x="542" y="835.2">X</text>
<text class="lb le" x="521" y="848.3">0</text><text class="lb le" x="521" y="887.5">2</text>
<text class="lb le" x="501" y="805">0</text><text class="lb le" x="501" y="859">2</text>
<text class="lb le" x="481" y="726.3">0</text><text class="lb le" x="481" y="824">2</text>
</g>
</svg>
